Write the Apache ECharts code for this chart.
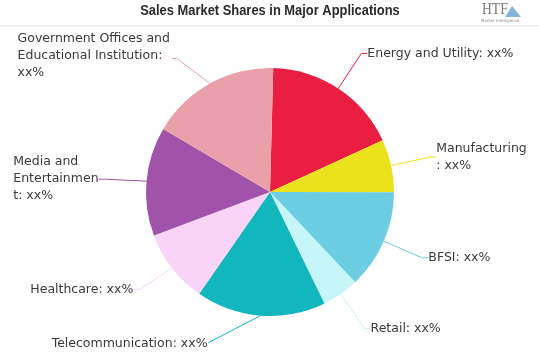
<!DOCTYPE html>
<html><head><meta charset="utf-8">
<script src="https://cdn.jsdelivr.net/npm/echarts@6/dist/echarts.min.js"></script>
<style>html,body{margin:0;padding:0;background:#fff}#c{width:539px;height:359px}</style>
</head><body><div id="c"></div>
<script>
var categories = ['Energy and Utility','Manufacturing','BFSI','Retail','Telecommunication','Healthcare','Media and Entertainment','Government Offices and Educational Institution'];
var shares = [17.7, 6.9, 12.9, 4.8, 16.9, 9.6, 14.2, 16.9];
var colors = ['#e91e40','#ebe11d','#6ccde3','#c6f6f8','#12b7bd','#f9d3f8','#a153a9','#e9a0ab'];
var titleText = 'Sales Market Shares in Major Applications';

var LABEL_FONT = '12.5px "DejaVu Sans"';
var mctx = document.createElement('canvas').getContext('2d');
mctx.font = LABEL_FONT;
function maxWrappedWidth(text, w){
  var words = text.split(' '), line = '', maxW = 0;
  function flush(){ if(line){ maxW = Math.max(maxW, mctx.measureText(line).width); } line=''; }
  words.forEach(function(word){
    var cand = line ? line + ' ' + word : word;
    if(mctx.measureText(cand).width <= w){ line = cand; return; }
    flush();
    if(mctx.measureText(word).width <= w){ line = word; return; }
    var part='';
    for(var i=0;i<word.length;i++){
      if(mctx.measureText(part+word[i]).width > w && part){ line = part; flush(); part=''; }
      part += word[i];
    }
    line = part;
  });
  flush();
  return maxW;
}
// leader-line bend offsets (relative to the slice-edge anchor) for two labels that the reference pushes aside
var bendOffsets = {
  'Telecommunication': [-52, 27, 0],
  'Government Offices and Educational Institution': [-33, -25, 5]
};

var chart = echarts.init(document.getElementById('c'), null, {renderer:'canvas'});
chart.setOption({
  animation:false,
  graphic:[
    {type:'text',x:270,y:11,scaleX:0.86,style:{text:titleText,font:'bold 15px "Liberation Sans"',fill:'#2b2b2b',align:'center',verticalAlign:'middle'}},
    {type:'line',shape:{x1:0,y1:26,x2:539,y2:26},style:{stroke:'#e6e6e6',lineWidth:1}},
    {type:'text',x:482,y:2,scaleX:0.85,style:{text:'HTF',font:'16px "Liberation Serif"',fill:'#7a7a7a'}},
    {type:'text',x:481,y:19,style:{text:'Market Intelligence',font:'4px "DejaVu Sans"',fill:'#8a8a8a'}},
    {type:'polygon',shape:{points:[[505,17],[512,6],[521,17]]},style:{fill:'#5b9bd0',opacity:0.75}}
  ],
  series:[{
    type:'pie',
    top:28,
    center:[270,164],
    radius:124,
    startAngle:88.5,
    clockwise:true,
    data:categories.map(function(n,i){
      var d = {name:n,value:shares[i],itemStyle:{color:colors[i]}};
      if(n==='Manufacturing'){ d.labelLine = {length:40}; }
      return d;
    }),
    label:{formatter:'{b}: xx%',fontFamily:'DejaVu Sans',fontSize:12.5,color:'#3a3a3a',overflow:'break',lineHeight:17,distanceToLabelLine:0},
    labelLine:{length:42,length2:6,lineStyle:{width:1}},
    labelLayout:function(p){
      var r=p.labelRect;
      var name = categories[p.dataIndex];
      var off = bendOffsets[name];
      var pts = p.labelLinePoints;
      var left = r.x + r.width/2 < 270;
      var multi = r.height > 20;
      var mw = multi ? maxWrappedWidth((p.text||'').replace(/\n/g,' '), r.width) : 0;
      if(off && pts){
        var p0 = pts[0];
        var b = [p0[0]+off[0], p0[1]+off[1]];
        var e = [b[0]-off[2], b[1]];
        var out = {y:b[1]-(multi?3:-1),verticalAlign:'middle',labelLinePoints:[p0,b,e]};
        if(multi){ out.x = e[0]-2-mw; out.align='left'; }
        else { out.x = e[0]-1; out.align='right'; }
        return out;
      }
      if(left && multi){
        return {x:r.x + r.width - mw,y:r.y+r.height/2,align:'left',verticalAlign:'middle',labelLinePoints:pts};
      }
      return {};
    },
    itemStyle:{borderWidth:0}
  }]
});
</script></body></html>
